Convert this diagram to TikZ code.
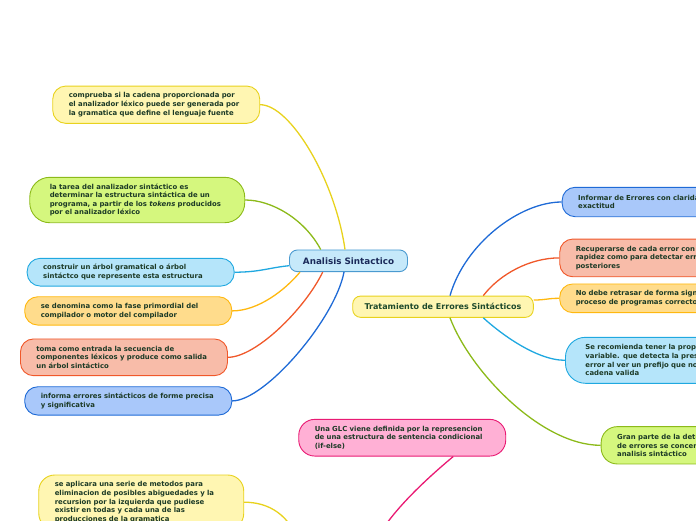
\documentclass[tikz,border=0pt]{standalone}
\usepackage{fontspec}
\setmainfont{DejaVu Sans}
\usepackage{xcolor}
\usepackage{tikz}
\usetikzlibrary{positioning}
\definecolor{yelfill}{HTML}{FFF6B2}
\definecolor{yelline}{HTML}{E8D21D}
\definecolor{grnfill}{HTML}{D5F77E}
\definecolor{grnline}{HTML}{8CBA1A}
\definecolor{cyanfill}{HTML}{B5E5FA}
\definecolor{cyanline}{HTML}{1FA8E0}
\definecolor{orgfill}{HTML}{FFDC8C}
\definecolor{orgline}{HTML}{FFB80F}
\definecolor{salfill}{HTML}{F8BCA9}
\definecolor{salline}{HTML}{F0582A}
\definecolor{bluefill}{HTML}{A9C8FA}
\definecolor{blueline}{HTML}{1E6AD6}
\definecolor{pnkfill}{HTML}{FFB0D5}
\definecolor{pnkline}{HTML}{E91A73}
\definecolor{hubfill}{HTML}{C6E9FA}
\definecolor{hubline}{HTML}{4A9AD0}
\definecolor{leaftext}{HTML}{1C3A26}
\definecolor{navytext}{HTML}{1B2A5A}
\definecolor{greentext}{HTML}{1E4A2C}

\begin{document}
\begin{tikzpicture}[x=1pt,y=1pt,every node/.style={font=\bfseries\fontsize{6.9}{8.6}\selectfont,align=left,text=leaftext},
leaf/.style={draw=#1line,fill=#1fill,line width=0.9pt,rounded corners=13pt,anchor=west,text width=175pt,inner xsep=16pt},
hub/.style={draw=#1line,fill=#1fill,line width=0.9pt,rounded corners=8pt,align=center},
edge/.style={draw=#1,line width=1.3pt}]
\useasboundingbox (0,0) rectangle (696,-520);
\clip (0,0) rectangle (696,-520);
\node[hub=hub,minimum width=118pt,minimum height=21.7pt,text=navytext,font=\bfseries\fontsize{8.8}{10}\selectfont] (an) at (348.5,-260.8) {Analisis Sintactico};
\node[hub=yel,minimum width=180.6pt,minimum height=21.3pt,text=greentext,font=\bfseries\fontsize{8}{10}\selectfont] (tr) at (443,-306.7) {Tratamiento de Errores Sintácticos};
\node[leaf=yel,minimum height=37.3pt] (n1) at (52.3,-104.7) {comprueba si la cadena proporcionada por\\el analizador léxico puede ser generada por\\la gramatica que define el lenguaje fuente};
\node[leaf=grn,minimum height=45.4pt,inner xsep=20pt,rounded corners=20pt] (n2) at (29.3,-200) {la tarea del analizador sintáctico es\\determinar la estructura sintáctica de un\\programa, a partir de los \textit{tokens} producidos\\por el analizador léxico};
\node[leaf=cyan,minimum height=27.7pt] (n3) at (26.7,-272.2) {construir un árbol gramatical o árbol\\sintáctco que represente esta estructura};
\node[leaf=org,minimum height=28.3pt] (n4) at (24.3,-310.9) {se denomina como la fase primordial del\\compilador o motor del compilador};
\node[leaf=sal,minimum height=36.7pt] (n5) at (20,-357.3) {toma como entrada la secuencia de\\componentes léxicos y produce como salida\\un árbol sintáctico};
\node[leaf=blue,minimum height=28.3pt] (n6) at (24.3,-400.9) {informa errores sintácticos de forme precisa\\y significativa};
\node[leaf=blue,minimum height=29.4pt] (r1) at (561.7,-202) {Informar de Errores con claridad y\\exactitud};
\node[leaf=sal,minimum height=37.7pt] (r2) at (559.3,-257.9) {Recuperarse de cada error con suficiente\\rapidez como para detectar errores\\posteriores};
\node[leaf=org,minimum height=28.7pt] (r3) at (559.3,-298.3) {No debe retrasar de forma significativa el\\proceso de programas correctos};
\node[leaf=cyan,minimum height=46pt,inner xsep=20pt,rounded corners=20pt] (r4) at (565,-360.3) {Se recomienda tener la propiedad del prefijo\\variable. que detecta la presencia de un\\error al ver un prefijo que no pertenece a\\cadena valida};
\node[leaf=grn,minimum height=37.3pt,rounded corners=16pt] (r5) at (600.7,-445.3) {Gran parte de la detección y recuperación\\de errores se concentra en la fase de\\analisis sintáctico};
\node[leaf=pnk,minimum height=36.7pt,rounded corners=16pt] (pk) at (298.3,-437.7) {Una GLC viene definida por la represencion\\de una estructura de sentencia condicional\\(if-else)};
\node[leaf=yel,minimum height=54.4pt,rounded corners=16pt,text width=173pt] (by) at (38.3,-502.2) {se aplicara una serie de metodos para\\eliminacion de posibles abiguedades y la\\recursion por la izquierda que pudiese\\existir en todas y cada una de las\\producciones de la gramatica};
\coordinate (glcl) at (300,-545);
\coordinate (glcr) at (372,-550);
\draw[edge=yelline] (n1.east) .. controls +(30,0) and +(-10,70) .. ([xshift=-3.5pt]an.north);
\draw[edge=grnline] (n2.east) .. controls +(27,0) and +(-16,30) .. ([xshift=-27.8pt]an.north);
\draw[edge=cyanline] (n3.east) .. controls +(25,0) and +(-20,-2) .. ([yshift=-4.9pt]an.west);
\draw[edge=orgline] (n4.east) .. controls +(26,0) and +(-15,-18) .. ([xshift=-48.5pt]an.south);
\draw[edge=salline] (n5.east) .. controls +(28,0) and +(-18,-37) .. ([xshift=-25.8pt]an.south);
\draw[edge=blueline] (n6.east) .. controls +(33,0) and +(-9,-47) .. ([xshift=-4.5pt]an.south);
\draw[edge=blueline] ([xshift=7pt]tr.north) .. controls +(15,52) and +(-42,0) .. (r1.west);
\draw[edge=salline] ([xshift=40.3pt]tr.north) .. controls +(17,22) and +(-29,0) .. (r2.west);
\draw[edge=orgline] ([yshift=6.7pt]tr.east) .. controls +(12,0) and +(-12,0) .. (r3.west);
\draw[edge=cyanline] ([xshift=40.3pt]tr.south) .. controls +(14,-13) and +(-30,0) .. (r4.west);
\draw[edge=grnline] ([xshift=7pt]tr.south) .. controls +(20,-53) and +(-60,0) .. (r5.west);
\draw[edge=pnkline] ([xshift=51pt]pk.south) .. controls +(-30,-25) and +(10,30) .. (glcr);
\draw[edge=yelline] (by.east) .. controls +(25,0) and +(-10,30) .. (glcl);
\end{tikzpicture}
\end{document}
